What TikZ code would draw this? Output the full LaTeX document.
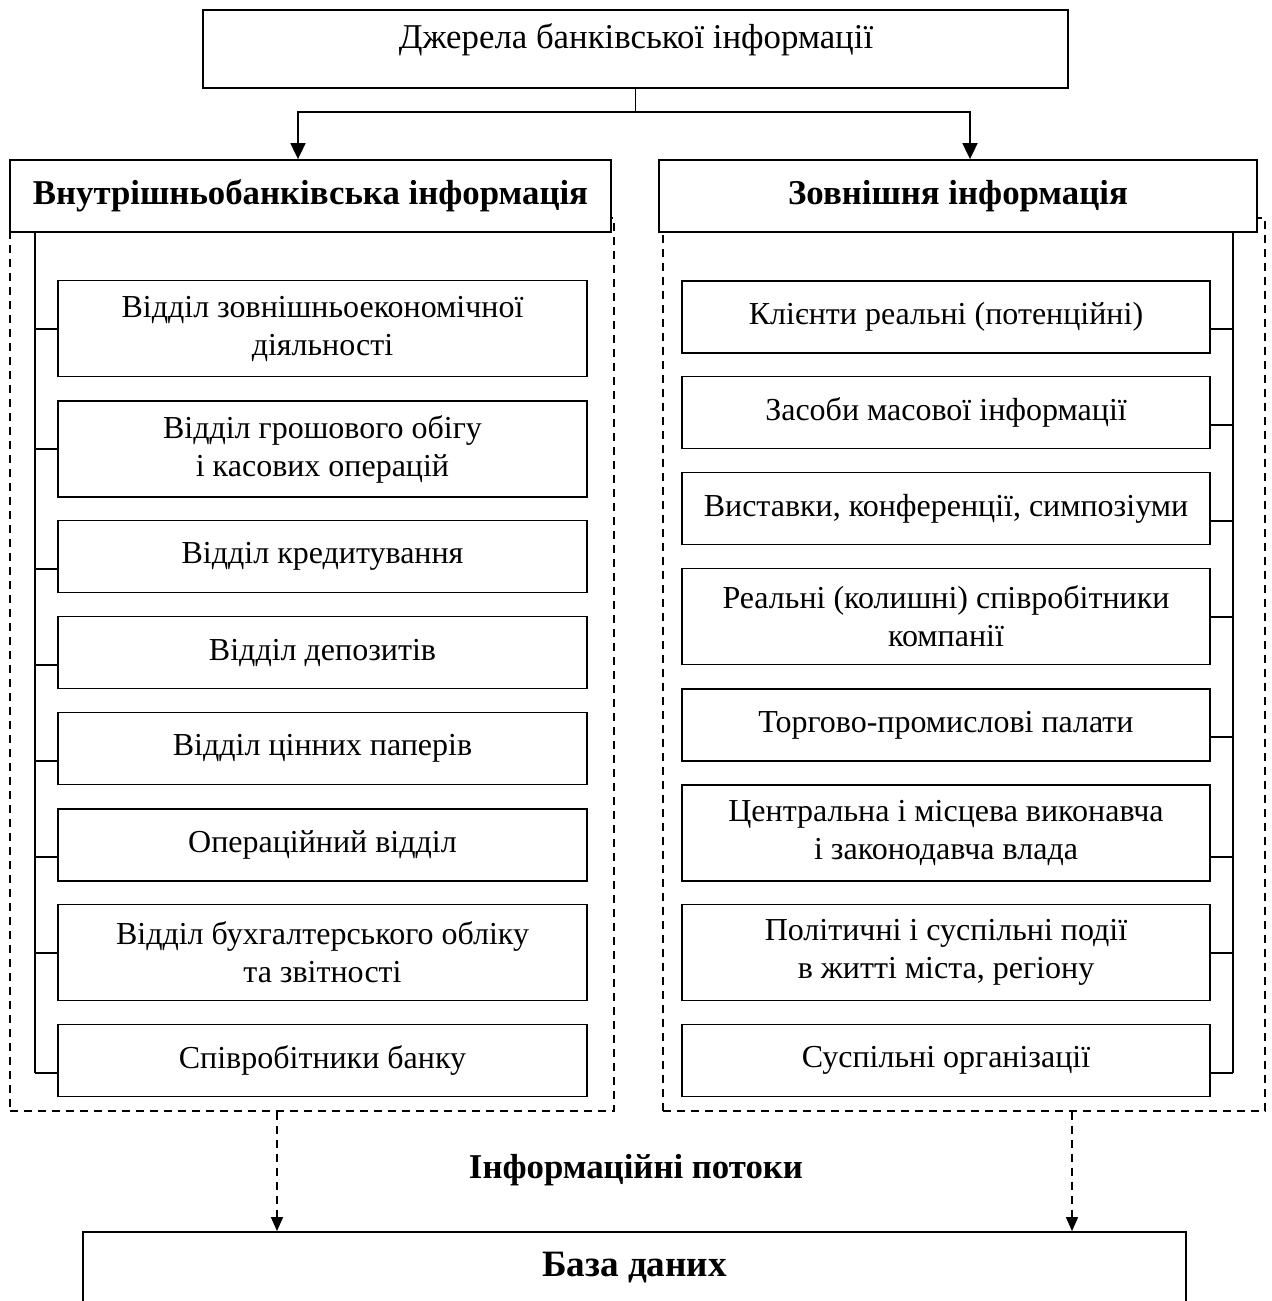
\documentclass[tikz,border=0pt]{standalone}
\usepackage{fontspec}
\setmainfont{Liberation Serif}
\usetikzlibrary{arrows.meta}
\begin{document}
\begin{tikzpicture}[x=0.5pt,y=-0.5pt,
  box/.style={draw, line width=0.9pt, fill=white, align=center, inner sep=0pt, font=\fontsize{16}{19}\selectfont},
  lbox/.style={box, minimum width=264.5pt},
  rbox/.style={box, minimum width=264pt},
  one/.style={minimum height=36pt},
  two/.style={minimum height=48pt},
  hdr/.style={box, minimum height=36pt, font=\fontsize{17.4}{20}\selectfont\bfseries},
  conn/.style={line width=0.9pt},
  arr/.style={conn, -{Triangle[length=8pt,width=7.5pt]}},
  dframe/.style={draw, dash pattern=on 4pt off 3pt, line width=0.7pt, inner sep=0pt},
  darr/.style={conn, line width=0.7pt, dash pattern=on 4pt off 3pt, -{Triangle[length=7pt,width=6pt]}},
  txt/.style={font=\fontsize{17.4}{20}\selectfont, inner sep=0pt},
  btxt/.style={font=\fontsize{17.4}{20}\selectfont\bfseries, inner sep=0pt}
]
\useasboundingbox (0,0) rectangle (1272,1301);

% top source
\node[box, minimum width=432.5pt, minimum height=39pt] (src) at (635.5,49) {};
\node[txt] (srct) at (636,40) {Джерела банківської інформації};

% dashed frames
\node[dframe, minimum width=302pt, minimum height=446.5pt] (lframe) at (312,664.5) {};
\node[dframe, minimum width=301pt, minimum height=446.5pt] (rframe) at (964,664.5) {};

% headers
\node[hdr, minimum width=300.5pt] (lhead) at (310.5,196) {Внутрішньобанківська інформація};
\node[hdr, minimum width=299pt] (rhead) at (958,196) {Зовнішня інформація};

% connectors from source
\coordinate (la) at (298,112);
\coordinate (ra) at (970,112);
\draw[conn] (src.south) -- (src.south |- la);
\draw[arr] (src.south |- la) -| (lhead.north -| la);
\draw[arr] (src.south |- ra) -| (rhead.north -| ra);

% left boxes
\node[lbox, two] (l1) at (322.5,328.5) {Відділ зовнішньоекономічної\\діяльності};
\node[lbox, two] (l2) at (322.5,449) {Відділ грошового обігу\\і касових операцій};
\node[lbox, one] (l3) at (322.5,556.5) {Відділ кредитування};
\node[lbox, one] (l4) at (322.5,652.5) {Відділ депозитів};
\node[lbox, one] (l5) at (322.5,748.5) {Відділ цінних паперів};
\node[lbox, one] (l6) at (322.5,845) {Операційний відділ};
\node[lbox, two] (l7) at (322.5,952.5) {Відділ бухгалтерського обліку\\та звітності};
\node[lbox, one] (l8) at (322.5,1060.5) {Співробітники банку};

% right boxes
\node[rbox, one] (r1) at (946,317) {Клієнти реальні (потенційні)};
\node[rbox, one] (r2) at (946,412.5) {Засоби масової інформації};
\node[rbox, one] (r3) at (946,508.5) {Виставки, конференції, симпозіуми};
\node[rbox, two] (r4) at (946,616.5) {Реальні (колишні) співробітники\\компанії};
\node[rbox, one] (r5) at (946,725) {Торгово-промислові палати};
\node[rbox, two] (r6) at (946,833) {Центральна і місцева виконавча\\і законодавча влада};
\node[rbox, two] (r7) at (946,952.5) {Політичні і суспільні події\\в житті міста, регіону};
\node[rbox, one] (r8) at (946,1060.5) {Суспільні організації};

% trunks
\coordinate (lt) at (35,0);
\coordinate (rt) at (1233,0);
\draw[conn] (lhead.south -| lt) -- (lt |- 0,1073);
\draw[conn] (rhead.south -| rt) -- (rt |- 0,1073);
\foreach \n/\y in {l1/329,l2/449,l3/569,l4/665,l5/761,l6/857,l7/953,l8/1073}
  \draw[conn] (\n.west |- 0,\y) -- (lt |- 0,\y);
\foreach \n/\y in {r1/329,r2/425,r3/521,r4/617,r5/737,r6/857,r7/953,r8/1073}
  \draw[conn] (\n.east |- 0,\y) -- (rt |- 0,\y);

% information flows
\node[btxt] (flow) at (636,1170) {Інформаційні потоки};
\node[box, minimum width=551.5pt, minimum height=54pt] (db) at (634.5,1286) {};
\node[btxt, font=\fontsize{18.6}{22}\selectfont\bfseries] (dbt) at (634.5,1268) {База даних};

\coordinate (da) at (277,0);
\coordinate (db2) at (1072,0);
\draw[darr] (lframe.south -| da) -- (db.north -| da);
\draw[darr] (rframe.south -| db2) -- (db.north -| db2);
\end{tikzpicture}
\end{document}
